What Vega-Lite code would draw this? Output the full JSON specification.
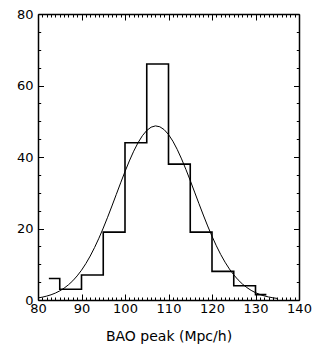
{
  "$schema": "https://vega.github.io/schema/vega-lite/v6.json",
  "width": 261,
  "height": 286,
  "autosize": "none",
  "padding": {"left": 38, "top": 14, "right": 28, "bottom": 53},
  "background": "white",
  "config": {
    "view": {"stroke": null},
    "axis": {
      "labelFont": "DejaVu Sans", "titleFont": "DejaVu Sans",
      "labelFontSize": 13, "titleFontSize": 14, "titleFontWeight": "normal",
      "labelColor": "black", "titleColor": "black",
      "domainColor": "black", "tickColor": "black",
      "grid": false, "domainWidth": 1.5, "tickWidth": 1
    }
  },
  "datasets": {
    "hist": [
      {"x": 82.5, "n": 6}, {"x": 85, "n": 3}, {"x": 90, "n": 7}, {"x": 95, "n": 19},
      {"x": 100, "n": 44}, {"x": 105, "n": 66}, {"x": 110, "n": 38}, {"x": 115, "n": 19},
      {"x": 120, "n": 8}, {"x": 125, "n": 4}, {"x": 130, "n": 1.5}, {"x": 132.5, "n": 1.5}
    ],
    "fit": [
      {"x": 80, "y": 0.58}, {"x": 81, "y": 0.80}, {"x": 82, "y": 1.09}, {"x": 83, "y": 1.46},
      {"x": 84, "y": 1.94}, {"x": 85, "y": 2.55}, {"x": 86, "y": 3.31}, {"x": 87, "y": 4.25},
      {"x": 88, "y": 5.38}, {"x": 89, "y": 6.74}, {"x": 90, "y": 8.33}, {"x": 91, "y": 10.18},
      {"x": 92, "y": 12.29}, {"x": 93, "y": 14.67}, {"x": 94, "y": 17.28}, {"x": 95, "y": 20.12},
      {"x": 96, "y": 23.14}, {"x": 97, "y": 26.30}, {"x": 98, "y": 29.54}, {"x": 99, "y": 32.77},
      {"x": 100, "y": 35.93}, {"x": 101, "y": 38.90}, {"x": 102, "y": 41.62}, {"x": 103, "y": 44.00},
      {"x": 104, "y": 45.95}, {"x": 105, "y": 47.42}, {"x": 106, "y": 48.34}, {"x": 107, "y": 48.70},
      {"x": 108, "y": 48.46}, {"x": 109, "y": 47.65}, {"x": 110, "y": 46.29}, {"x": 111, "y": 44.43},
      {"x": 112, "y": 42.13}, {"x": 113, "y": 39.47}, {"x": 114, "y": 36.53}, {"x": 115, "y": 33.41},
      {"x": 116, "y": 30.18}, {"x": 117, "y": 26.95}, {"x": 118, "y": 23.77}, {"x": 119, "y": 20.71},
      {"x": 120, "y": 17.83}, {"x": 121, "y": 15.16}, {"x": 122, "y": 12.74}, {"x": 123, "y": 10.58},
      {"x": 124, "y": 8.68}, {"x": 125, "y": 7.04}, {"x": 126, "y": 5.63}, {"x": 127, "y": 4.46},
      {"x": 128, "y": 3.49}, {"x": 129, "y": 2.69}, {"x": 130, "y": 2.05}, {"x": 131, "y": 1.55},
      {"x": 132, "y": 1.15}, {"x": 133, "y": 0.85}, {"x": 134, "y": 0.62}, {"x": 135, "y": 0.44}
    ]
  },
  "layer": [
    {
      "data": {"name": "hist"},
      "mark": {"type": "line", "interpolate": "step-after", "color": "black", "strokeWidth": 1.6},
      "encoding": {
        "x": {
          "field": "x", "type": "quantitative",
          "scale": {"domain": [80, 140], "nice": false, "zero": false},
          "axis": {
            "orient": "bottom", "title": "BAO peak (Mpc/h)",
            "values": [80,81,82,83,84,85,86,87,88,89,90,91,92,93,94,95,96,97,98,99,100,101,102,103,104,105,106,107,108,109,110,111,112,113,114,115,116,117,118,119,120,121,122,123,124,125,126,127,128,129,130,131,132,133,134,135,136,137,138,139,140],
            "tickSize": {"condition": {"test": "datum.value % 10 === 0", "value": -6}, "value": -3},
            "labelExpr": "datum.value % 10 === 0 ? datum.label : ''",
            "labelOverlap": false, "labelFlush": false,
            "labelPadding": 8.5, "titlePadding": 11
          }
        },
        "y": {
          "field": "n", "type": "quantitative",
          "scale": {"domain": [0, 80], "nice": false},
          "axis": {
            "orient": "left", "title": null,
            "values": [0,5,10,15,20,25,30,35,40,45,50,55,60,65,70,75,80],
            "tickSize": {"condition": {"test": "datum.value % 20 === 0", "value": -5.5}, "value": -2.7},
            "labelExpr": "datum.value % 20 === 0 ? datum.label : ''",
            "labelOverlap": false, "labelFlush": false,
            "labelPadding": 10.5
          }
        }
      }
    },
    {
      "data": {"name": "fit"},
      "mark": {"type": "line", "color": "black", "strokeWidth": 1},
      "encoding": {
        "x": {
          "field": "x", "type": "quantitative",
          "scale": {"domain": [80, 140], "nice": false, "zero": false},
          "axis": {
            "orient": "top", "title": null, "labels": false,
            "values": [80,81,82,83,84,85,86,87,88,89,90,91,92,93,94,95,96,97,98,99,100,101,102,103,104,105,106,107,108,109,110,111,112,113,114,115,116,117,118,119,120,121,122,123,124,125,126,127,128,129,130,131,132,133,134,135,136,137,138,139,140],
            "tickSize": {"condition": {"test": "datum.value % 10 === 0", "value": -6}, "value": -3}
          }
        },
        "y": {
          "field": "y", "type": "quantitative",
          "scale": {"domain": [0, 80], "nice": false},
          "axis": {
            "orient": "right", "title": null, "labels": false,
            "values": [0,5,10,15,20,25,30,35,40,45,50,55,60,65,70,75,80],
            "tickSize": {"condition": {"test": "datum.value % 20 === 0", "value": -5.5}, "value": -2.7}
          }
        }
      }
    }
  ],
  "resolve": {"axis": {"x": "independent", "y": "independent"}}
}
